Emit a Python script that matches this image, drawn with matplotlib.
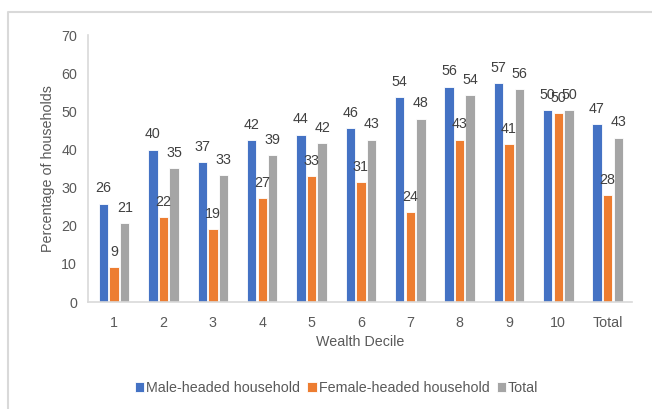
import numpy as np
import matplotlib.pyplot as plt
from matplotlib.lines import Line2D

plt.rcParams['font.family'] = ['Liberation Sans', 'DejaVu Sans']

# data
categories = ['1', '2', '3', '4', '5', '6', '7', '8', '9', '10', 'Total']
male = [25.8, 40.0, 36.6, 42.4, 43.9, 45.6, 53.8, 56.5, 57.4, 50.4, 46.6]
female = [9.1, 22.3, 19.2, 27.2, 33.1, 31.4, 23.6, 42.6, 41.4, 49.6, 28.1]
total = [20.7, 35.1, 33.3, 38.6, 41.6, 42.6, 48.1, 54.2, 55.8, 50.3, 43.1]
series_names = ['Male-headed household', 'Female-headed household', 'Total']
colors = ['#4472c4', '#ed7d31', '#a5a5a5']
text_col = '#595959'
fs = 10.3

fig = plt.figure(figsize=(6.52, 4.09), dpi=100)
ax = fig.add_axes([0.135, 0.2616, 0.834, 0.6524])

x = np.arange(len(categories))
w = 0.19
step = 0.215
for i, (vals, name, c) in enumerate(zip([male, female, total], series_names, colors)):
    xs = x + (i - 1) * step
    ax.bar(xs, vals, width=w, color=c, edgecolor='white', linewidth=0.6, label=name)
    for xi, v in zip(xs, vals):
        ax.annotate(f'{v:.0f}', (xi, v), xytext=(0, 11), textcoords='offset points',
                    ha='center', va='center', fontsize=fs, color='#404040')

ax.set_xlim(-0.53, 10.49)
ax.set_ylim(0, 70)
ax.set_yticks(range(0, 71, 10))
ax.set_xticks(x)
ax.set_xticklabels(categories)
ax.tick_params(length=0, labelsize=fs, labelcolor=text_col, pad=8)
ax.tick_params(axis='x', pad=10)
for s in ['top', 'right']:
    ax.spines[s].set_visible(False)
for s in ['left', 'bottom']:
    ax.spines[s].set_color('#d9d9d9')
    ax.spines[s].set_linewidth(1.2)

ax.set_xlabel('Wealth Decile', fontsize=fs, color=text_col, labelpad=4)
ax.set_ylabel('Percentage of households', fontsize=fs, color=text_col, labelpad=4)

ax.legend(loc='center', bbox_to_anchor=(0.457, -0.322), ncol=3, frameon=False,
          fontsize=fs, labelcolor=text_col, handlelength=0.65, handleheight=0.65,
          handletextpad=0.15, columnspacing=0.5)

# outer chart frame (top and left edges)
fig.add_artist(Line2D([8 / 652, 8 / 652, 1], [0, 1 - 12 / 409, 1 - 12 / 409],
                      transform=fig.transFigure, color='#d9d9d9', linewidth=1.5))

fig.savefig('out.png', dpi=100)
